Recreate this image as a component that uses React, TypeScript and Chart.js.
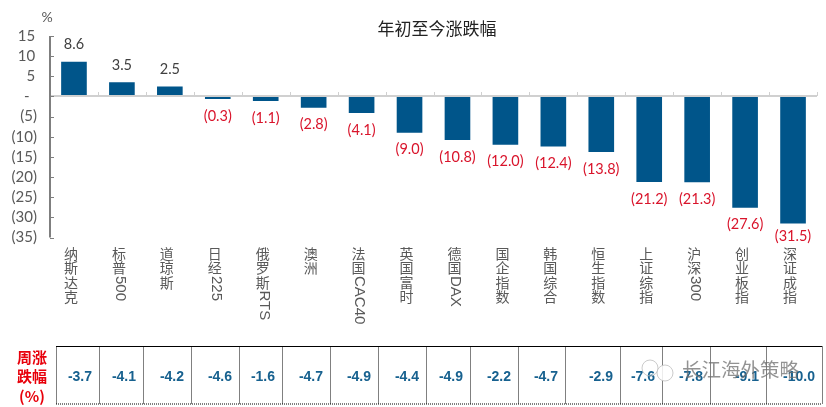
import React, { useEffect, useRef } from "react";
import { Chart, registerables } from "chart.js";

Chart.register(...registerables);

const categories = ["纳斯达克", "标普500", "道琼斯", "日经225", "俄罗斯RTS", "澳洲", "法国CAC40", "英国富时", "德国DAX", "国企指数", "韩国综合", "恒生指数", "上证综指", "沪深300", "创业板指", "深证成指"];
const ytdValues = [8.6, 3.5, 2.5, -0.3, -1.1, -2.8, -4.1, -9.0, -10.8, -12.0, -12.4, -13.8, -21.2, -21.3, -27.6, -31.5];
const weeklyValues = ["-3.7", "-4.1", "-4.2", "-4.6", "-1.6", "-4.7", "-4.9", "-4.4", "-4.9", "-2.2", "-4.7", "-2.9", "-7.6", "-7.8", "-9.1", "-10.0"];
const chartTitle = "年初至今涨跌幅";
const unitLabel = "%";
const tableHeader = ["周涨", "跌幅", "(%)"];
const watermark = "长江海外策略";

const tableEdges = [56, 99, 143, 191, 239, 282, 330, 378, 426, 470, 518, 565, 620, 662, 710, 766, 822];
const TABLE_TOP = 346.5;
const TABLE_BOTTOM = 404;
const CJK = "'Noto Sans CJK SC'";
const LATIN = "'Liberation Sans'";

const fmtPlain = (v: number) => v.toFixed(1);
const fmtNeg = (v: number) => `(${Math.abs(v).toFixed(1)})`;
const fmtTick = (v: number) => (v === 0 ? "-\u2002" : v < 0 ? `(${Math.abs(v)})` : `${v}\u2009`);

function drawVerticalLabel(ctx: CanvasRenderingContext2D, text: string, cx: number, top: number) {
  const step = 14.5;
  const runs = text.match(/[A-Za-z0-9]+|[^A-Za-z0-9]/g) || [];
  let y = top;
  for (const run of runs) {
    if (/^[A-Za-z0-9]+$/.test(run)) {
      ctx.save();
      ctx.font = `15px ${LATIN}`;
      const w = ctx.measureText(run).width;
      ctx.translate(cx + 1, y + 1);
      ctx.rotate(Math.PI / 2);
      ctx.textAlign = "left";
      ctx.textBaseline = "middle";
      ctx.fillText(run, 0, 0);
      ctx.restore();
      y += w + 1;
    } else {
      ctx.font = `14px ${CJK}`;
      ctx.textAlign = "center";
      ctx.textBaseline = "middle";
      ctx.fillText(run, cx, y + step / 2);
      y += step;
    }
  }
}

const decorations = {
  id: "decorations",
  afterDraw(chart: any) {
    const ctx: CanvasRenderingContext2D = chart.ctx;
    const xs = chart.scales.x;
    const ys = chart.scales.y;
    const meta = chart.getDatasetMeta(0);
    ctx.save();

    // Value labels above / below bars
    ctx.textAlign = "center";
    ctx.textBaseline = "middle";
    ytdValues.forEach((v, i) => {
      const bar = meta.data[i];
      ctx.font = `14.5px Lato`;
      ctx.fillStyle = v < 0 ? "#d9142b" : "#404040";
      const y = v < 0 ? Math.min(bar.y + 17, 236) : bar.y - 17;
      ctx.fillText(v < 0 ? fmtNeg(v) : fmtPlain(v), bar.x, y);
    });

    // Zero line and its ticks
    const zero = Math.round(ys.getPixelForValue(0));
    ctx.strokeStyle = "#d0d0d0";
    ctx.lineWidth = 2;
    ctx.beginPath();
    ctx.moveTo(xs.left, zero);
    ctx.lineTo(xs.right, zero);
    ctx.stroke();
    ctx.lineWidth = 1;
    for (let i = 0; i <= categories.length; i++) {
      const x = Math.round(xs.left + (xs.right - xs.left) * i / categories.length) + 0.5;
      ctx.beginPath();
      ctx.moveTo(x, zero - 4);
      ctx.lineTo(x, zero);
      ctx.stroke();
    }

    // Value axis line and inward ticks
    ctx.strokeStyle = "#7f7f7f";
    ctx.lineWidth = 2;
    ctx.beginPath();
    ctx.moveTo(xs.left, ys.top);
    ctx.lineTo(xs.left, ys.bottom);
    ctx.stroke();
    ctx.lineWidth = 1;
    for (let v = -35; v <= 15; v += 5) {
      const y = Math.round(ys.getPixelForValue(v)) + 0.5;
      ctx.beginPath();
      ctx.moveTo(xs.left, y);
      ctx.lineTo(xs.left + 4, y);
      ctx.stroke();
    }

    // Category labels
    ctx.fillStyle = "#595959";
    categories.forEach((c, i) => {
      drawVerticalLabel(ctx, c, xs.getPixelForValue(i) - 3, 246);
    });

    // Title and unit
    ctx.textBaseline = "middle";
    ctx.fillStyle = "#222222";
    ctx.font = `17px ${CJK}`;
    ctx.textAlign = "center";
    ctx.fillText(chartTitle, 437, 29);
    ctx.fillStyle = "#595959";
    ctx.font = `14px Lato`;
    ctx.fillText(unitLabel, 47, 17);

    // Table
    ctx.strokeStyle = "#000000";
    ctx.lineWidth = 1;
    ctx.setLineDash([]);
    ctx.beginPath();
    ctx.moveTo(tableEdges[0], TABLE_TOP);
    ctx.lineTo(tableEdges[tableEdges.length - 1], TABLE_TOP);
    ctx.stroke();
    ctx.setLineDash([1, 1]);
    ctx.beginPath();
    ctx.moveTo(tableEdges[0], TABLE_BOTTOM);
    ctx.lineTo(tableEdges[tableEdges.length - 1], TABLE_BOTTOM);
    tableEdges.forEach((x) => {
      ctx.moveTo(x + 0.5, TABLE_TOP);
      ctx.lineTo(x + 0.5, TABLE_BOTTOM);
    });
    ctx.stroke();
    ctx.setLineDash([]);

    ctx.font = `bold 14px ${LATIN}`;
    ctx.fillStyle = "#17618f";
    ctx.textAlign = "right";
    weeklyValues.forEach((v, i) => {
      ctx.fillText(v, tableEdges[i + 1] - 7, 377);
    });

    ctx.font = `bold 15px ${CJK}`;
    ctx.fillStyle = "#e8000b";
    ctx.textAlign = "center";
    tableHeader.forEach((t, i) => ctx.fillText(t, 32, 357 + i * 19.5));

    // Watermark
    ctx.strokeStyle = "rgba(190,190,190,0.8)";
    ctx.fillStyle = "rgba(255,255,255,0.85)";
    ctx.lineWidth = 1;
    ctx.beginPath();
    ctx.arc(650, 368, 8, 0, Math.PI * 2);
    ctx.stroke();
    ctx.beginPath();
    ctx.arc(665, 373, 8, 0, Math.PI * 2);
    ctx.fill();
    ctx.stroke();
    ctx.font = `19.5px ${CJK}`;
    ctx.fillStyle = "rgba(110,110,110,0.75)";
    ctx.textAlign = "left";
    ctx.fillText(watermark, 682, 370);
    ctx.restore();
  },
};

export default function App() {
  const ref = useRef<HTMLCanvasElement>(null);
  useEffect(() => {
    const chart = new Chart(ref.current!, {
      type: "bar",
      data: {
        labels: categories,
        datasets: [
          {
            data: ytdValues,
            backgroundColor: "#00558a",
            borderWidth: 0,
            borderSkipped: false,
            categoryPercentage: 1,
            barPercentage: 0.535,
            minBarLength: 2.5,
          } as any,
        ],
      },
      options: {
        responsive: false,
        animation: false,
        devicePixelRatio: 1,
        layout: { padding: { left: 0, right: 9, top: 36, bottom: 169.5 } },
        plugins: { legend: { display: false }, title: { display: false }, tooltip: { enabled: false } },
        scales: {
          x: {
            position: { y: 0 } as any,
            grid: { display: false, drawTicks: false },
            border: { display: false },
            ticks: { display: false },
          },
          y: {
            min: -35,
            max: 15,
            afterFit(axis: any) { axis.width = 50; },
            grid: { display: false, drawTicks: false },
            border: { display: false },
            ticks: {
              stepSize: 5,
              autoSkip: false,
              padding: 13,
              callback: (v: any) => fmtTick(Number(v)),
              color: "#595959",
              font: { family: "Lato", size: 15 },
            },
          },
        },
      } as any,
      plugins: [decorations],
    });
    return () => chart.destroy();
  }, []);
  return (
    <canvas
      ref={ref}
      width={826}
      height={407}
      style={{ position: "absolute", left: 0, top: 0, width: 826, height: 407 }}
    />
  );
}
